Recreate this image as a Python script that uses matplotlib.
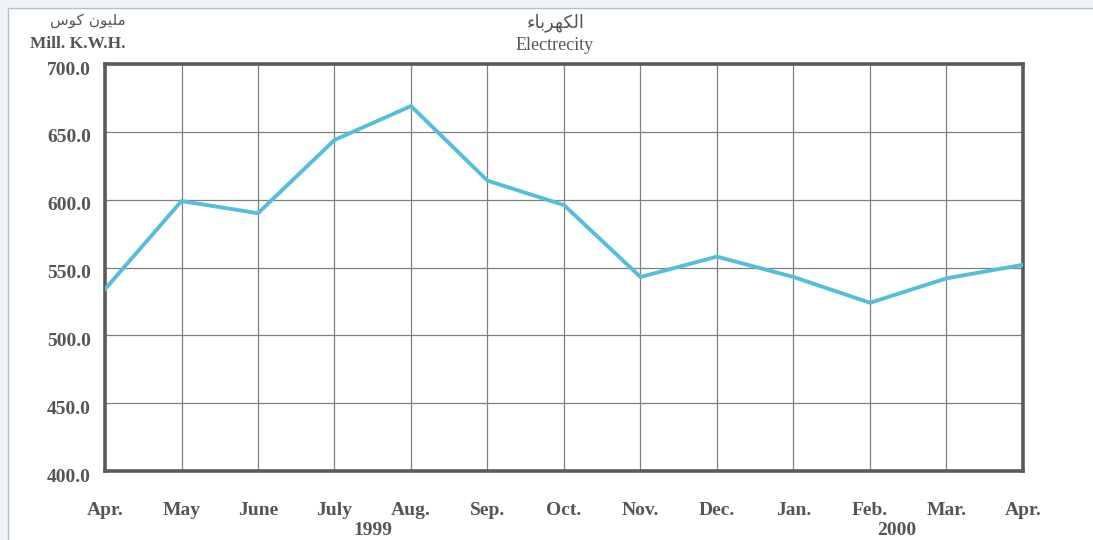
import matplotlib
matplotlib.use('Agg')
from matplotlib import pyplot as plt
from matplotlib.patches import Rectangle
from matplotlib.transforms import ScaledTranslation

# 月份标签与发电量（百万千瓦时）
months = ['Apr.', 'May', 'June', 'July', 'Aug.', 'Sep.', 'Oct.',
          'Nov.', 'Dec.', 'Jan.', 'Feb.', 'Mar.', 'Apr.']
values = [534.0, 599.0, 590.0, 644.0, 669.0, 614.0, 596.0,
          543.0, 558.0, 543.0, 524.0, 542.0, 552.0]
y_ticks = [400.0, 450.0, 500.0, 550.0, 600.0, 650.0, 700.0]
years = ['1999', '2000']
year_pos = [3.5, 10.35]

# 阿拉伯文（呈现形式，按视觉顺序）
title_ar = '\uFE80\uFE8E\uFE91\uFEAE\uFEEC\uFEDC\uFEDF\uFE8D'
unit_ar = '\uFEB1\uFEEE\uFEDB \uFEE5\uFEEE\uFEF4\uFEE0\uFEE3'

txt = '#555555'
serif = ['Liberation Serif', 'DejaVu Serif']

f = plt.figure(figsize=(10.93, 5.4), dpi=100, facecolor='#eef3f6')
# 外框
f.patches.append(Rectangle((8 / 1093, -0.1), 1.2, (532 / 540) + 0.1,
                           transform=f.transFigure, facecolor='white',
                           edgecolor='#b8c0c4', linewidth=1.0, zorder=-1))

ax = f.add_axes([105 / 1093, 1 - 471 / 540, 918 / 1093, 407 / 540])
ax.set_zorder(2)
x = list(range(len(months)))
ax.plot(x, values, '-', color='#55BEDB', linewidth=2.8, zorder=3,
        solid_joinstyle='miter')
ax.set_xlim(0, len(months) - 1)
ax.set_ylim(400, 700)
ax.set_xticks(x)
ax.set_xticklabels(months)
ax.set_yticks(y_ticks)
ax.set_yticklabels(['{:.1f}'.format(v) for v in y_ticks])
ax.grid(True, color='#808080', linewidth=0.9)
ax.set_axisbelow(True)
for s in ax.spines.values():
    s.set_color('#5a5a5a')
    s.set_linewidth(2.6)
ax.tick_params(axis='both', length=0, colors=txt)
ax.tick_params(axis='y', pad=10)
ax.tick_params(axis='x', pad=22)
for lab in ax.get_xticklabels() + ax.get_yticklabels():
    lab.set_family(serif)
    lab.set_fontweight('bold')
    lab.set_fontsize(14)
    lab.set_color(txt)
# y轴标签略微下移
shift = ScaledTranslation(0, -4 / 100, f.dpi_scale_trans)
for lab in ax.get_yticklabels():
    lab.set_transform(lab.get_transform() + shift)

# 年份
for yr, p in zip(years, year_pos):
    ax.text(p, -0.145, yr, transform=ax.get_xaxis_transform(), ha='center',
            va='center', family=serif, fontsize=14, fontweight='bold', color=txt)

# 标题与单位
f.text(555 / 1093, 1 - 23 / 540, title_ar, ha='center', va='center',
       family='DejaVu Sans', fontsize=13, color=txt)
f.text(555 / 1093, 1 - 45 / 540, 'Electrecity', ha='center', va='center',
       family=serif, fontsize=13, color=txt)
f.text(88 / 1093, 1 - 20 / 540, unit_ar, ha='center', va='center',
       family='DejaVu Sans', fontsize=11, color=txt)
f.text(78 / 1093, 1 - 44 / 540, 'Mill. K.W.H.', ha='center', va='center',
       family=serif, fontsize=12.5, fontweight='bold', color=txt)

plt.savefig('out.png', dpi=100, facecolor=f.get_facecolor())
